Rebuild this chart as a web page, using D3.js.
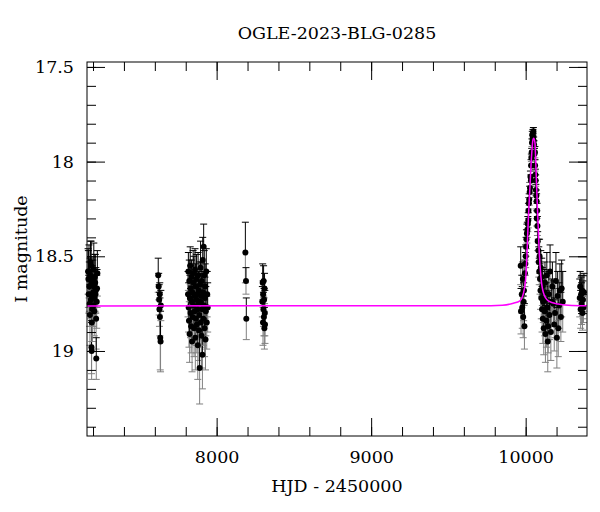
<!DOCTYPE html>
<html>
<head>
<meta charset="utf-8">
<script src="https://cdn.jsdelivr.net/npm/d3@7"></script>
<style>
  body { margin: 0; background: #fff; }
  text { font-family: "DejaVu Serif", serif; }
</style>
</head>
<body>
<div class="chart-box"></div>
<script>
const title = "OGLE-2023-BLG-0285";
const xLabel = "HJD - 2450000";
const yLabel = "I magnitude";
const xMajorTicks = [8000, 9000, 10000];
const xMinorTicks = [7200, 7400, 7600, 7800, 8000, 8200, 8400, 8600, 8800, 9000, 9200, 9400, 9600, 9800, 10000, 10200];
const yMajorTicks = [17.5, 18, 18.5, 19];
const yMinorTicks = [17.5, 17.6, 17.7, 17.8, 17.9, 18, 18.1, 18.2, 18.3, 18.4, 18.5, 18.6, 18.7, 18.8, 18.9, 19, 19.1, 19.2, 19.3, 19.4];

// [HJD - 2450000, I mag, error]
const season1 = [
    [7168, 18.58, 0.12], [7170, 18.62, 0.15], [7172, 18.70, 0.10], [7174, 18.58, 0.14], [7176, 18.66, 0.13],
    [7178, 18.75, 0.12], [7180, 18.81, 0.16], [7182, 18.60, 0.09], [7184, 18.53, 0.11], [7186, 18.73, 0.10],
    [7188, 18.55, 0.13], [7189, 18.64, 0.12], [7190, 18.98, 0.14], [7191, 19.00, 0.15], [7192, 18.85, 0.10],
    [7194, 18.71, 0.16], [7196, 18.78, 0.17], [7199, 18.62, 0.10], [7201, 18.69, 0.12], [7203, 18.76, 0.11],
    [7205, 18.57, 0.14], [7207, 18.66, 0.09], [7208, 18.79, 0.13], [7210, 18.72, 0.10], [7212, 18.61, 0.12],
    [7214, 18.64, 0.15], [7216, 18.70, 0.10], [7218, 18.68, 0.12], [7220, 18.83, 0.16], [7221, 19.04, 0.11],
    [7224, 18.74, 0.14], [7226, 18.67, 0.10], [7228, 18.59, 0.12]
];
const season2 = [
    [7622, 18.60, 0.09], [7625, 18.66, 0.07], [7628, 18.73, 0.08], [7630, 18.78, 0.09], [7632, 18.70, 0.06],
    [7633, 18.82, 0.10], [7635, 18.93, 0.17], [7637, 18.95, 0.16], [7639, 18.76, 0.08]
];
const season3 = [
    [7815, 18.70, 0.12], [7817, 18.58, 0.10], [7819, 18.77, 0.13], [7821, 18.84, 0.14], [7823, 18.63, 0.11],
    [7825, 18.91, 0.15], [7827, 18.72, 0.12], [7829, 18.55, 0.10], [7831, 18.80, 0.13], [7833, 18.67, 0.12],
    [7835, 18.87, 0.14], [7837, 18.61, 0.09], [7839, 18.74, 0.12], [7841, 18.95, 0.16], [7843, 18.69, 0.11],
    [7845, 18.82, 0.13], [7848, 18.59, 0.12], [7850, 18.76, 0.10], [7852, 18.64, 0.14], [7854, 18.88, 0.15],
    [7856, 18.71, 0.12], [7858, 18.79, 0.13], [7860, 18.57, 0.11], [7862, 18.93, 0.17], [7864, 18.66, 0.12],
    [7866, 18.83, 0.14], [7868, 18.73, 0.10], [7870, 18.62, 0.13], [7872, 18.86, 0.15], [7874, 18.70, 0.11],
    [7876, 18.78, 0.12], [7878, 18.97, 0.18], [7880, 18.60, 0.12], [7882, 18.75, 0.14], [7884, 18.68, 0.10],
    [7886, 18.89, 0.16], [7888, 18.81, 0.13], [7890, 19.09, 0.19], [7892, 18.65, 0.12], [7894, 18.74, 0.11],
    [7896, 18.56, 0.14], [7898, 18.85, 0.13], [7900, 18.71, 0.12], [7902, 18.92, 0.17], [7904, 18.63, 0.10],
    [7906, 18.78, 0.13], [7908, 19.02, 0.18], [7910, 18.52, 0.12], [7912, 18.69, 0.11], [7914, 18.83, 0.14],
    [7916, 18.45, 0.12], [7918, 18.76, 0.12], [7920, 18.60, 0.13], [7922, 18.88, 0.15], [7924, 18.72, 0.11],
    [7926, 18.66, 0.12], [7928, 18.94, 0.16], [7930, 18.79, 0.13], [7933, 18.58, 0.12], [7936, 18.85, 0.14],
    [7939, 18.70, 0.12], [7942, 18.77, 0.13]
];
const season4 = [
    [8186, 18.48, 0.16], [8190, 18.63, 0.07], [8192, 18.83, 0.11]
];
const season5 = [
    [8296, 18.74, 0.08], [8298, 18.64, 0.10], [8300, 18.85, 0.12], [8301, 18.70, 0.07], [8303, 18.78, 0.09],
    [8304, 18.63, 0.08], [8306, 18.82, 0.10], [8307, 18.73, 0.06], [8309, 18.88, 0.11], [8310, 18.67, 0.08],
    [8312, 18.80, 0.12], [8313, 18.86, 0.10]
];
const eventRise = [
    [9968, 18.55, 0.10], [9970, 18.79, 0.12], [9975, 18.70, 0.10], [9978, 18.77, 0.11], [9982, 18.62, 0.09],
    [9984, 18.82, 0.11], [9987, 18.74, 0.10], [9989, 18.68, 0.08], [9992, 18.87, 0.12], [9995, 18.59, 0.07],
    [9998, 18.54, 0.06], [10000, 18.50, 0.06], [10003, 18.45, 0.05], [10005, 18.41, 0.05], [10008, 18.38, 0.05],
    [10011, 18.36, 0.04], [10014, 18.33, 0.04], [10017, 18.31, 0.04], [10018, 18.26, 0.04], [10021, 18.22, 0.03],
    [10023, 18.20, 0.03], [10026, 18.16, 0.03], [10028, 18.14, 0.03], [10031, 18.08, 0.03], [10034, 18.10, 0.03],
    [10035, 18.02, 0.03], [10037, 17.98, 0.02], [10039, 17.95, 0.02], [10041, 17.90, 0.02], [10043, 17.86, 0.02],
    [10045, 17.88, 0.02], [10047, 17.85, 0.02], [10049, 17.87, 0.02], [10050, 17.84, 0.02], [10052, 17.89, 0.02],
    [10054, 17.91, 0.02], [10057, 17.96, 0.03], [10060, 17.95, 0.03], [10061, 18.02, 0.03], [10063, 18.07, 0.03],
    [10065, 18.10, 0.03], [10066, 18.15, 0.03], [10069, 18.18, 0.03], [10071, 18.21, 0.04], [10072, 18.30, 0.04],
    [10074, 18.26, 0.04], [10076, 18.34, 0.05]
];
const eventTail = [
    [10078, 18.42, 0.05], [10082, 18.47, 0.06], [10085, 18.53, 0.08], [10088, 18.58, 0.07], [10090, 18.50, 0.09],
    [10093, 18.62, 0.08], [10096, 18.68, 0.10], [10098, 18.56, 0.09], [10101, 18.72, 0.11], [10104, 18.61, 0.10],
    [10106, 18.78, 0.12], [10108, 18.66, 0.10], [10111, 18.83, 0.13], [10114, 18.74, 0.11], [10117, 18.88, 0.14],
    [10120, 18.69, 0.12], [10123, 18.79, 0.13], [10125, 18.64, 0.11], [10128, 18.91, 0.15], [10131, 18.73, 0.12],
    [10134, 18.84, 0.14], [10137, 18.60, 0.12], [10140, 18.77, 0.13], [10143, 18.95, 0.16], [10146, 18.87, 0.14],
    [10150, 18.70, 0.12], [10154, 18.81, 0.13], [10158, 18.58, 0.14], [10163, 18.90, 0.15], [10168, 18.74, 0.12],
    [10173, 18.66, 0.13], [10179, 18.75, 0.12], [10185, 18.86, 0.14], [10190, 18.80, 0.13], [10196, 18.63, 0.15],
    [10202, 18.93, 0.16], [10207, 18.71, 0.13], [10211, 18.88, 0.15], [10216, 18.76, 0.12], [10222, 18.68, 0.14],
    [10228, 18.82, 0.13], [10233, 18.67, 0.15], [10240, 18.74, 0.16]
];
const season9 = [
    [10350, 18.72, 0.10], [10353, 18.66, 0.08], [10356, 18.78, 0.10], [10359, 18.70, 0.09], [10362, 18.75, 0.11],
    [10365, 18.68, 0.08], [10368, 18.80, 0.09], [10371, 18.73, 0.10], [10374, 18.77, 0.08], [10377, 18.69, 0.10]
];

// model curve: [HJD - 2450000, I mag]
const model = [
    [7161, 18.762], [9700, 18.761], [9850, 18.758], [9920, 18.748], [9963, 18.735], [9984, 18.70],
    [10000, 18.62], [10008, 18.50], [10017, 18.31], [10028, 18.13], [10039, 17.96], [10047, 17.885],
    [10052, 17.876], [10060, 17.90], [10067, 18.04], [10075, 18.22], [10082, 18.36], [10088, 18.48],
    [10099, 18.61], [10114, 18.69], [10146, 18.735], [10211, 18.752], [10276, 18.758], [10397, 18.761]
];

const drawChart = () => {
    const allData = [].concat(season1, season2, season3, season4, season5, eventRise, eventTail, season9);
    const fontSize = "17.5px";

    const svg = d3.select(".chart-box").append("svg")
        .attr("width", 600)
        .attr("height", 512);

    const margin = { left: 87, right: 13, top: 62, bottom: 76 };
    const width = 600 - margin.left - margin.right;
    const height = 512 - margin.top - margin.bottom;

    const xScale = d3.scaleLinear().domain([7161, 10397]).range([0, width]);
    const yScale = d3.scaleLinear().domain([17.474, 19.449]).range([0, height]);

    const g = svg.append("g")
        .attr("transform", "translate(" + margin.left + "," + margin.top + ")");

    //title
    svg.append("text")
        .attr("x", margin.left + width / 2)
        .attr("y", 39)
        .attr("text-anchor", "middle")
        .attr("font-size", fontSize)
        .text(title);

    const plot = g.append("g");

    //minor ticks on all four sides
    const minor = [
        [d3.axisBottom(xScale).tickValues(xMinorTicks), "translate(0," + height + ")"],
        [d3.axisTop(xScale).tickValues(xMinorTicks), null],
        [d3.axisLeft(yScale).tickValues(yMinorTicks), null],
        [d3.axisRight(yScale).tickValues(yMinorTicks), "translate(" + width + ",0)"]
    ];
    minor.forEach(([ax, tr]) => {
        const a = g.append("g").attr("transform", tr)
            .call(ax.tickSize(-9).tickFormat(""));
        a.select(".domain").remove();
    });

    //major ticks
    const xb = g.append("g")
        .attr("transform", "translate(0," + height + ")")
        .call(d3.axisBottom(xScale).tickValues(xMajorTicks).tickSize(-18).tickPadding(15).tickFormat((d) => String(d)));
    const xt = g.append("g")
        .call(d3.axisTop(xScale).tickValues(xMajorTicks).tickSize(-18).tickFormat(""));
    const yl = g.append("g")
        .call(d3.axisLeft(yScale).tickValues(yMajorTicks).tickSize(-18).tickPadding(13).tickFormat((d) => String(d)));
    const yr = g.append("g")
        .attr("transform", "translate(" + width + ",0)")
        .call(d3.axisRight(yScale).tickValues(yMajorTicks).tickSize(-18).tickFormat(""));
    [xb, xt, yl, yr].forEach((a) => {
        a.select(".domain").remove();
        a.selectAll("text")
            .attr("font-family", "DejaVu Serif, serif")
            .attr("font-size", fontSize)
            .attr("fill", "#000");
    });

    //frame
    g.append("rect")
        .attr("width", width)
        .attr("height", height)
        .attr("fill", "none")
        .attr("stroke", "#000")
        .attr("stroke-width", 1);

    //axis labels
    svg.append("text")
        .attr("x", margin.left + width / 2)
        .attr("y", 492)
        .attr("text-anchor", "middle")
        .attr("font-size", fontSize)
        .text(xLabel);
    svg.append("text")
        .attr("transform", "translate(27," + (margin.top + height / 2) + ") rotate(-90)")
        .attr("text-anchor", "middle")
        .attr("font-size", fontSize)
        .text(yLabel);

    //error bars: upper half black, lower half grey
    const cap = 3.5;
    const bars = plot.selectAll(".err")
        .data(allData)
        .enter().append("g")
        .attr("class", "err");
    bars.append("line")
        .attr("x1", (d) => xScale(d[0])).attr("x2", (d) => xScale(d[0]))
        .attr("y1", (d) => yScale(d[1] - d[2])).attr("y2", (d) => yScale(d[1]))
        .attr("stroke", "#000");
    bars.append("line")
        .attr("x1", (d) => xScale(d[0]) - cap).attr("x2", (d) => xScale(d[0]) + cap)
        .attr("y1", (d) => yScale(d[1] - d[2])).attr("y2", (d) => yScale(d[1] - d[2]))
        .attr("stroke", "#000");
    bars.append("line")
        .attr("x1", (d) => xScale(d[0])).attr("x2", (d) => xScale(d[0]))
        .attr("y1", (d) => yScale(d[1])).attr("y2", (d) => yScale(d[1] + d[2]))
        .attr("stroke", "#808080");
    bars.append("line")
        .attr("x1", (d) => xScale(d[0]) - cap).attr("x2", (d) => xScale(d[0]) + cap)
        .attr("y1", (d) => yScale(d[1] + d[2])).attr("y2", (d) => yScale(d[1] + d[2]))
        .attr("stroke", "#808080");

    //points
    plot.selectAll(".pt")
        .data(allData)
        .enter().append("circle")
        .attr("class", "pt")
        .attr("cx", (d) => xScale(d[0]))
        .attr("cy", (d) => yScale(d[1]))
        .attr("r", 3)
        .attr("fill", "#000");

    //model
    const line = d3.line()
        .x((d) => xScale(d[0]))
        .y((d) => yScale(d[1]))
        .curve(d3.curveMonotoneX);
    plot.append("path")
        .datum(model)
        .attr("d", line)
        .attr("fill", "none")
        .attr("stroke", "#ff00ff")
        .attr("stroke-width", 1.5);
};

drawChart();
</script>
</body>
</html>
